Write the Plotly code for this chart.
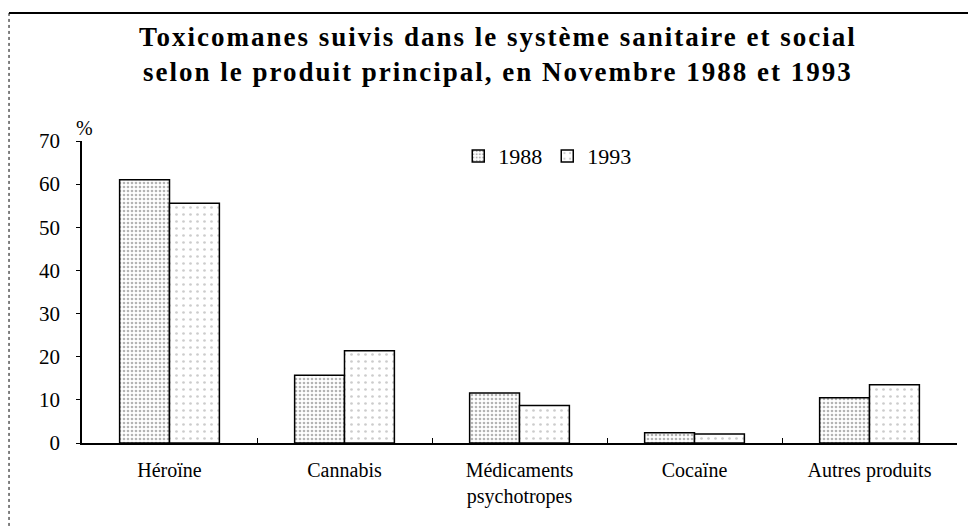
import plotly.graph_objects as go

produits = ["Héroïne", "Cannabis", "Médicaments<br>psychotropes", "Cocaïne", "Autres produits"]
val_1988 = [61.0, 15.7, 11.6, 2.4, 10.5]
val_1993 = [55.6, 21.4, 8.7, 2.1, 13.5]
y_ticks = [0, 10, 20, 30, 40, 50, 60, 70]

serif = "Liberation Serif, Times New Roman, serif"

fig = go.Figure()

# 1988 : pointillé dense
fig.add_trace(go.Bar(
    x=produits, y=val_1988, name="1988",
    marker=dict(color="white", line=dict(color="black", width=1.5),
                pattern=dict(shape=".", fgcolor="#6a6a6a", bgcolor="white",
                             size=4, solidity=0.35)),
))

# 1993 : pointillé léger
fig.add_trace(go.Bar(
    x=produits, y=val_1993, name="1993",
    marker=dict(color="white", line=dict(color="black", width=1.5),
                pattern=dict(shape=".", fgcolor="#9a9a9a", bgcolor="white",
                             size=7, solidity=0.12)),
))

# la page ajoute une marge de 8 px : figure un peu plus petite
fig.update_layout(
    width=968, height=518,
    margin=dict(l=74, r=19, t=133, b=83),
    paper_bgcolor="white", plot_bgcolor="white",
    font=dict(family=serif, color="black", size=20),
    barmode="group", bargap=0.43, bargroupgap=0,
    legend=dict(orientation="h", x=0.43, y=0.95, xanchor="left", yanchor="middle",
                font=dict(size=22), bgcolor="rgba(0,0,0,0)",
                itemwidth=30, traceorder="normal"),
    showlegend=True,
)

# titre
fig.add_annotation(
    text='<span style="letter-spacing:2px">Toxicomanes suivis dans le système sanitaire et social<br>'
         'selon le produit principal, en Novembre 1988 et 1993</span>',
    xref="paper", yref="paper", x=0.475, y=1.286,
    xanchor="center", yanchor="middle", showarrow=False,
    font=dict(family=serif, size=27, color="black", weight="bold"),
)

fig.update_xaxes(
    showline=True, linecolor="black", linewidth=1.5,
    ticks="inside", tickson="boundaries", ticklen=5, tickcolor="black",
    showgrid=False, tickfont=dict(size=20), ticklabelstandoff=8,
)
fig.update_yaxes(
    range=[0, 70], tickvals=y_ticks,
    showline=True, linecolor="black", linewidth=1.5,
    ticks="outside", ticklen=4, tickcolor="black",
    showgrid=False, zeroline=False, tickfont=dict(size=21), ticklabelstandoff=12,
)

# unité
fig.add_annotation(text="%", xref="paper", yref="paper", x=0.003, y=1.043,
                   xanchor="center", yanchor="middle", showarrow=False,
                   font=dict(size=20))

# cadre (haut et gauche, image rognée)
fig.add_shape(type="line", xref="paper", yref="paper",
              x0=-0.0834, x1=1.03, y0=1.424, y1=1.424,
              line=dict(color="black", width=2))
fig.add_shape(type="line", xref="paper", yref="paper",
              x0=-0.0834, x1=-0.0834, y0=1.424, y1=-0.28,
              line=dict(color="black", width=1, dash="dot"))

fig.write_html("out.html")
